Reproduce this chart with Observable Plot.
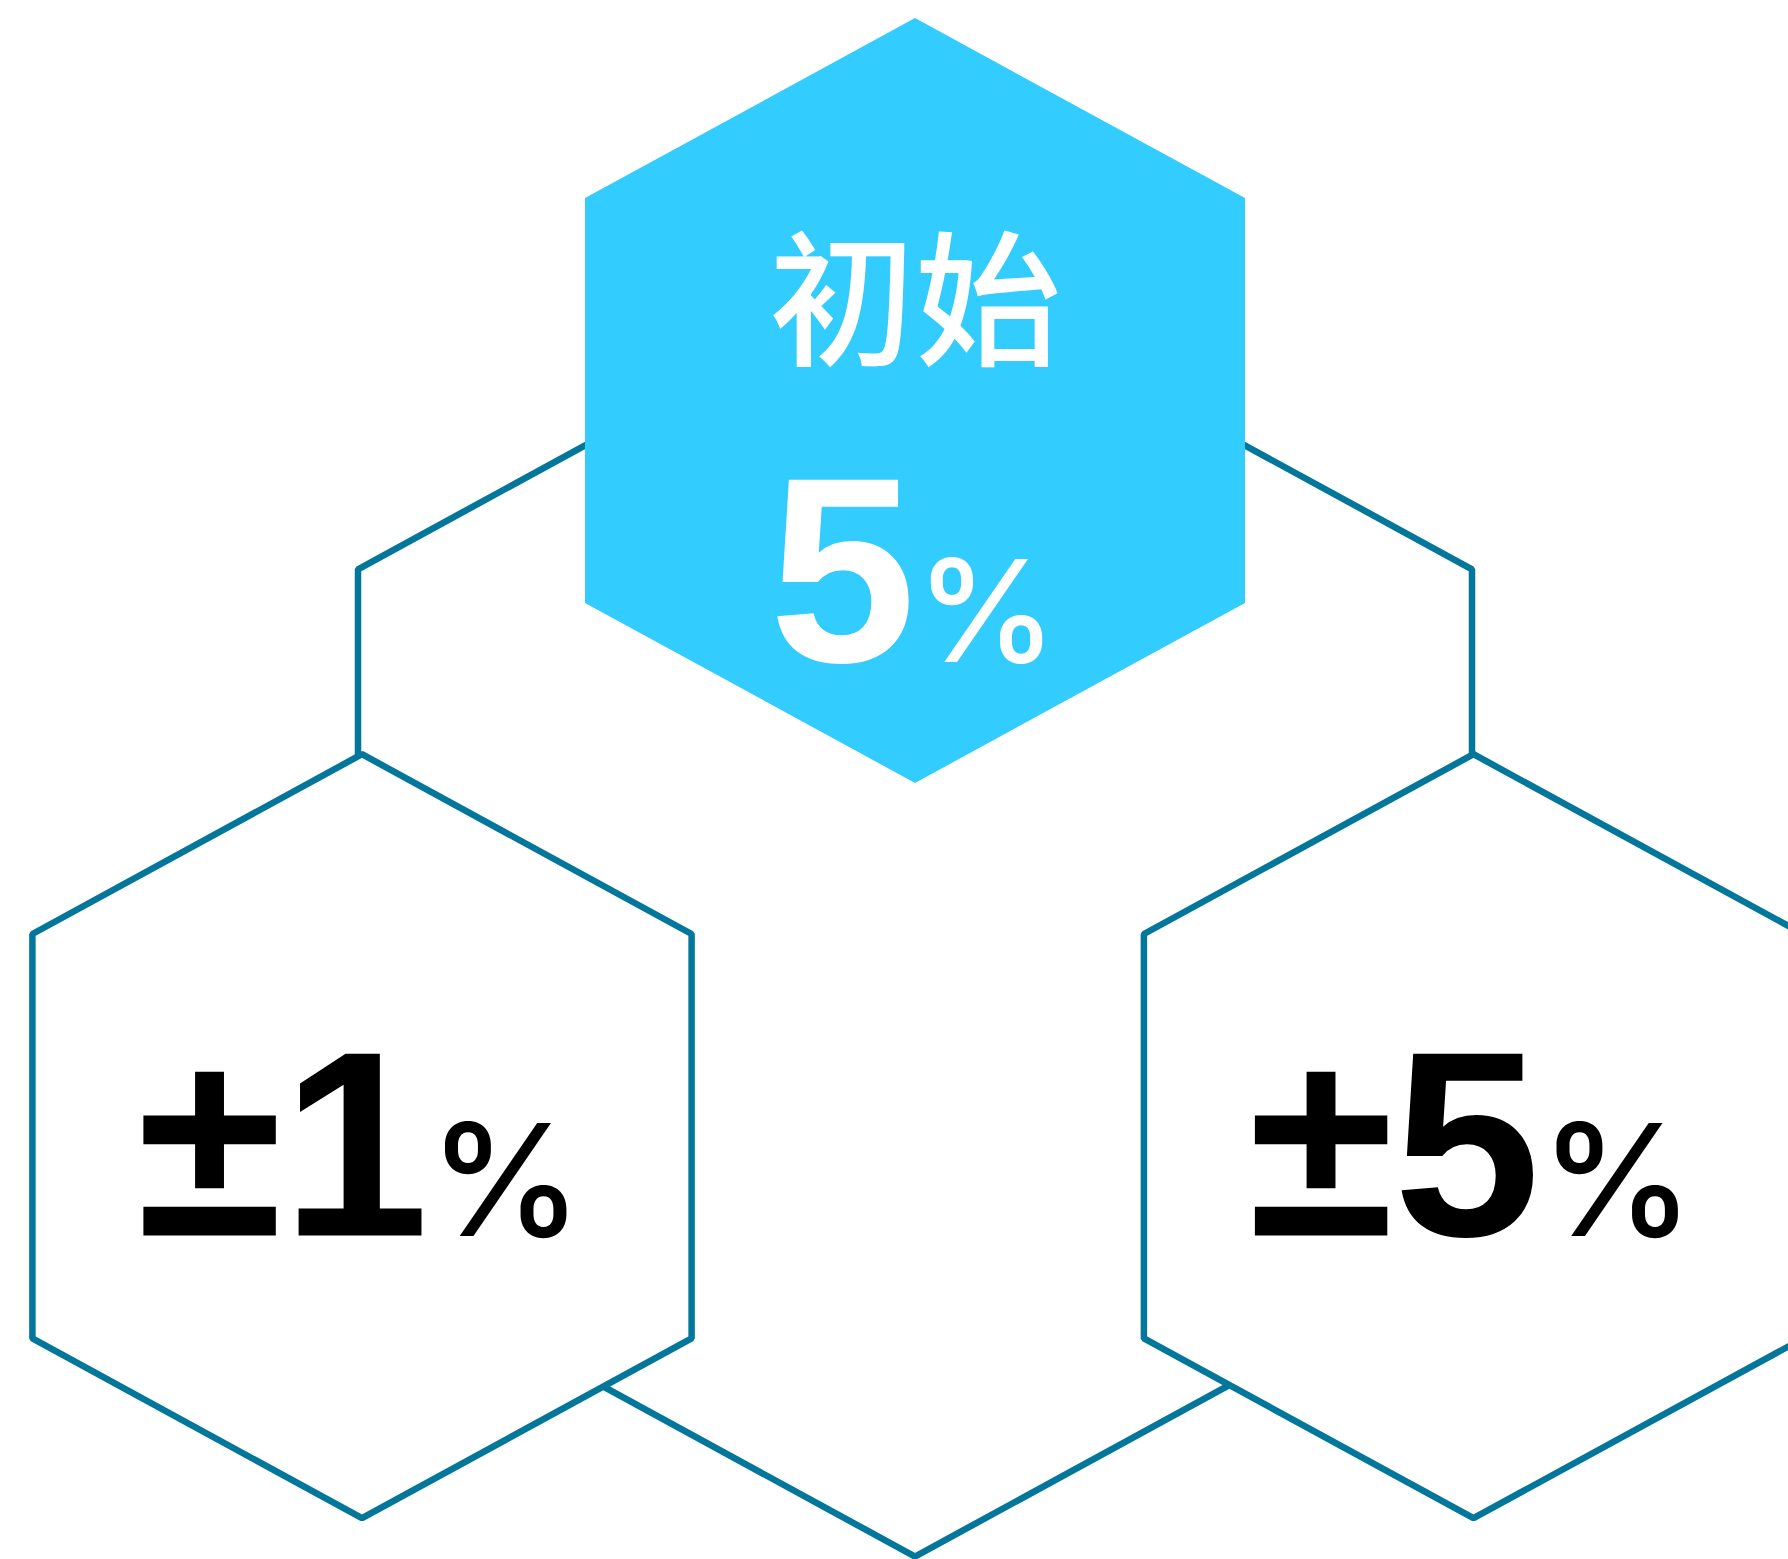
<!DOCTYPE html>
<html>
<head>
<meta charset="utf-8">
<script src="https://cdn.jsdelivr.net/npm/d3@7"></script>
<script src="https://cdn.jsdelivr.net/npm/@observablehq/plot@0.6"></script>
<style>
  html, body { margin: 0; padding: 0; background: #ffffff; }
  #chart svg { display: block; }
</style>
</head>
<body>
<div id="chart"></div>
<script>
// ---- data ----
const titles = ["初始"];              // label of the highlighted hexagon
const figures = ["5", "±1", "±5"];    // values shown in the three hexagons
const unit = "%";

// ---- layout (page pixels) ----
const W = 1788, H = 1559;
const STROKE = "#03779b";
const FILL_HI = "#33ccff";
const TIP = 0.5455, HALF_SIDE = 0.6135; // hexagon proportions relative to half-width

const hexes = [
  {id: "outer", cx: 914.5, cy: 910.5, a: 557,   fill: "none",   stroke: STROKE},
  {id: "left",  cx: 361.5, cy: 1135.7, a: 329.6, fill: "#ffffff", stroke: STROKE},
  {id: "right", cx: 1473,  cy: 1135.7, a: 329.6, fill: "#ffffff", stroke: STROKE},
  {id: "top",   cx: 914.5, cy: 400,    a: 330,   fill: FILL_HI,  stroke: "none"}
];
function hexPoints(h) {
  const t = TIP * h.a, s = HALF_SIDE * h.a;
  return [
    [h.cx, h.cy - s - t], [h.cx + h.a, h.cy - s], [h.cx + h.a, h.cy + s],
    [h.cx, h.cy + s + t], [h.cx - h.a, h.cy + s], [h.cx - h.a, h.cy - s]
  ].map(([x, y]) => ({id: h.id, x, y}));
}

// label layout: which hex, baseline, colour, sizes
const NUM_BASE = 132, NUM_SCALE = 2;   // numbers drawn at 132px and scaled ×2 (264px)
const labelLayout = [
  {hex: "top",   baseline: 661,  color: "#ffffff", pctSize: 142},
  {hex: "left",  baseline: 1235, color: "#000000", pctSize: 155},
  {hex: "right", baseline: 1235, color: "#000000", pctSize: 155}
];
const NUM_FONT = "Liberation Sans";
const PCT_FONT = "Inter";
const PCT_WEIGHT = 500;
const CJK_FONT = "Noto Sans CJK SC";
const ADV = {"5": 0.556, "1": 0.556, "±": 0.549};
const PCT_ADV = 1.02;

const numRows = [], pctRows = [];
figures.forEach((f, i) => {
  const L = labelLayout[i];
  const h = hexes.find(d => d.id === L.hex);
  const wn = Array.from(f).reduce((s, c) => s + (ADV[c] || 0.556), 0) * NUM_BASE * NUM_SCALE;
  const wp = PCT_ADV * L.pctSize;
  const split = h.cx + (wn - wp) / 2;
  numRows.push({x: split, y: L.baseline, text: f, color: L.color});
  pctRows.push({x: split, y: L.baseline, text: unit, color: L.color, size: L.pctSize});
});
const topHex = hexes.find(d => d.id === "top");
const titleRows = titles.map(t => ({x: topHex.cx, y: 353, text: t}));

const hexMark = (h) => Plot.line(hexPoints(h), {
  x: "x", y: "y", curve: "linear-closed",
  fill: h.fill, stroke: h.stroke, strokeWidth: 6.5, strokeLinejoin: "miter"
});

function draw() {
  const chart = Plot.plot({
    width: W, height: H,
    margin: 0,
    x: {domain: [0, W], range: [0, W], axis: null},
    y: {domain: [0, H], range: [0, H], axis: null},
    marks: [
      ...hexes.map(hexMark),
      Plot.text(titleRows, {
        x: "x", y: "y", text: "text", fill: "#ffffff",
        fontSize: 146, fontWeight: 500, fontFamily: CJK_FONT,
        textAnchor: "middle", lineAnchor: "bottom"
      }),
      ...numRows.map(r => Plot.text([r], {
        x: "x", y: "y", text: "text", fill: r.color,
        fontSize: NUM_BASE, fontWeight: 700, fontFamily: NUM_FONT,
        textAnchor: "end", lineAnchor: "bottom", className: "num"
      })),
      ...pctRows.map(r => Plot.text([r], {
        x: "x", y: "y", text: "text", fill: r.color,
        fontSize: r.size, fontWeight: PCT_WEIGHT, fontFamily: PCT_FONT,
        textAnchor: "start", lineAnchor: "bottom", className: "pct"
      }))
    ]
  });
  chart.querySelectorAll("g[aria-label=text]").forEach(g => {
    const fam = g.getAttribute("font-family");
    if (fam) g.style.fontFamily = `"${fam}"`;
  });
  chart.querySelectorAll("g.num text").forEach(t => {
    t.setAttribute("transform", (t.getAttribute("transform") || "") + ` scale(${NUM_SCALE})`);
  });
  return chart;
}

const holder = document.getElementById("chart");
holder.append(draw());
// redraw once the system faces are ready, so every label uses its intended face
const redraw = () => holder.replaceChildren(draw());
if (document.fonts && document.fonts.load) {
  Promise.all([
    document.fonts.load(`700 ${NUM_BASE}px "${NUM_FONT}"`, "±15"),
    document.fonts.load(`${PCT_WEIGHT} 155px "${PCT_FONT}"`, "%"),
    document.fonts.load(`500 146px "${CJK_FONT}"`, "初始")
  ]).then(() => document.fonts.ready).then(() => requestAnimationFrame(redraw)).catch(() => {});
}
</script>
</body>
</html>
